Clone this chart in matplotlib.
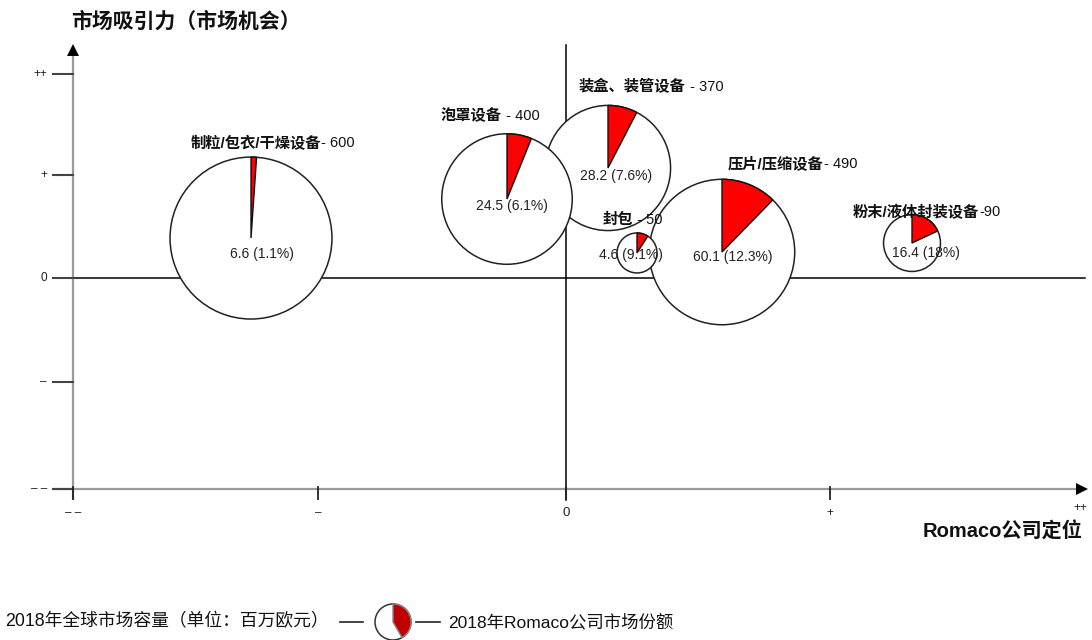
import matplotlib
matplotlib.use('Agg')
import matplotlib.pyplot as plt
from matplotlib.patches import Wedge, Circle
from matplotlib.transforms import ScaledTranslation
import numpy as np

plt.rcParams['font.family'] = ['Liberation Sans', 'Noto Sans CJK SC', 'DejaVu Sans']

# ---------------- data ----------------
names = ['制粒/包衣/干燥设备', '泡罩设备', '装盒、装管设备', '封包', '压片/压缩设备', '粉末/液体封装设备']
market = [600, 400, 370, 50, 490, 90]          # 2018 global market volume (M EUR)
romaco = [6.6, 24.5, 28.2, 4.6, 60.1, 16.4]    # Romaco sales (M EUR)
share = [1.1, 6.1, 7.6, 9.1, 12.3, 18]         # Romaco market share (%)
share_txt = ['1.1%', '6.1%', '7.6%', '9.1%', '12.3%', '18%']
pos_x = [-1.26, -0.236, 0.168, 0.284, 0.624, 1.384]   # Romaco positioning
pos_y = [0.386, 0.763, 1.063, 0.242, 0.251, 0.338]    # market attractiveness

x_tick_pos = [-1.972, -0.992, 0.0, 1.056]
x_tick_labels = ['– –', '–', '0', '+']
y_tick_pos = [1.971, 0.995, 0.0, -1.005, -2.039]
y_tick_labels = ['++', '+', '0', '–', '– –']

# ---------------- styling ----------------
W, H = 1092, 640
X0, XU = 566, 250.0
Y0, YU = 278, 103.5
draw_order = [2, 0, 1, 4, 3, 5]
name_off = [(-60, -95), (-66, -83), (-29, -81), (-34, -33), (6, -88), (-59, -31)]
name_sep = ['- ', ' - ', ' - ', ' - ', '- ', '-']
val_off = [(11, 16), (5, 7), (8, 8), (-6, 2), (11, 5), (14, 10)]

fig = plt.figure(figsize=(W / 100, H / 100), dpi=100)
ax = fig.add_axes([0, 0, 1, 1])
ax.axis('off')
ax.set_xlim(-X0 / XU, (W - X0) / XU)
ax.set_ylim(-(H - Y0) / YU, Y0 / YU)


def px(xp):
    return (xp - X0) / XU


def py(yp):
    return (Y0 - yp) / YU


xL = x_tick_pos[0]
yB = y_tick_pos[-1]
gray = '#9a9a9a'

# outer axes
ax.plot([xL, xL], [py(500), py(52)], color=gray, lw=1.6, zorder=1, solid_capstyle='butt')
ax.plot([px(53), px(1080)], [yB, yB], color=gray, lw=1.6, zorder=1, solid_capstyle='butt')
ax.plot([xL], [py(50)], marker='^', ms=9, color='black', zorder=2, mew=0)
ax.plot([px(1082)], [yB], marker='>', ms=9, color='black', zorder=2, mew=0)

# inner cross
ax.plot([0, 0], [py(45), py(500)], color='black', lw=1.1, zorder=1)
ax.plot([px(53), px(1085)], [0, 0], color='black', lw=1.1, zorder=1)

# ticks
for yt, lab in zip(y_tick_pos, y_tick_labels):
    ax.plot([px(53), xL], [yt, yt], color='#444444', lw=1.5, zorder=1.5)
    ax.annotate(lab, xy=(px(47), yt), ha='right', va='center', fontsize=8.5, color='#222222')
for xt, lab in zip(x_tick_pos, x_tick_labels):
    ax.plot([xt, xt], [py(487), py(499)], color='#222222', lw=1.3, zorder=1.5)
    ax.annotate(lab, xy=(xt, py(513)), ha='center', va='center', fontsize=8.5 if lab != '0' else 9.5,
                color='#222222')
ax.annotate('++', xy=(px(1080), py(508)), ha='center', va='center', fontsize=8.5, color='#222222')

# bubbles
for k, i in enumerate(draw_order):
    r_in = (3.5 * np.sqrt(market[i]) - 4.75) / 100.0
    trans = fig.dpi_scale_trans + ScaledTranslation(pos_x[i], pos_y[i], ax.transData)
    z = 3 + k
    ax.add_patch(Circle((0, 0), r_in, transform=trans, facecolor='white',
                        edgecolor='#222222', lw=1.1, zorder=z))
    ax.add_patch(Wedge((0, 0), r_in, 90 - 3.6 * share[i], 90, transform=trans,
                       facecolor='#ff0000', edgecolor='#111111', lw=1.0, zorder=z + 0.5))

# labels
for i in range(len(names)):
    dx, dy = name_off[i]
    t = ax.annotate(names[i], xy=(pos_x[i], pos_y[i]), xytext=(dx, -dy),
                    textcoords='offset pixels', ha='left', va='center',
                    fontsize=11, fontweight='bold', color='#111111', zorder=20)
    ax.annotate(f'{name_sep[i]}{market[i]}', xy=(1, 0.5), xycoords=t, ha='left', va='center',
                fontsize=10.5, color='#111111', zorder=20)
    vx, vy = val_off[i]
    ax.annotate(f'{romaco[i]} ({share_txt[i]})', xy=(pos_x[i], pos_y[i]), xytext=(vx, -vy),
                textcoords='offset pixels', ha='center', va='center',
                fontsize=10, color='#222222', zorder=20)

# axis titles
ax.annotate('市场吸引力（市场机会）', xy=(px(71), py(22)), ha='left', va='center',
            fontsize=15, fontweight='bold', color='#111111')
ax.annotate('Romaco公司定位', xy=(px(1083), py(532)), ha='right', va='center',
            fontsize=14.5, fontweight='bold', color='#111111')

# legend
ax.annotate('2018年全球市场容量（单位：百万欧元）', xy=(px(5), py(622)), ha='left', va='center',
            fontsize=12.8, color='#111111')
ax.plot([px(340), px(363)], [py(622), py(622)], color='#222222', lw=1.2)
ax.plot([px(416), px(440)], [py(622), py(622)], color='#222222', lw=1.2)
ltrans = fig.dpi_scale_trans + ScaledTranslation(px(393), py(622), ax.transData)
ax.add_patch(Circle((0, 0), 0.18, transform=ltrans, facecolor='white', edgecolor='#333333', lw=1.1))
ax.add_patch(Wedge((0, 0), 0.18, -60, 90, transform=ltrans, facecolor='#c00000',
                   edgecolor='#888888', lw=1.0))
ax.annotate('2018年Romaco公司市场份额', xy=(px(448), py(622)), ha='left', va='center',
            fontsize=12.5, color='#111111')

fig.savefig('out.png', dpi=100)
